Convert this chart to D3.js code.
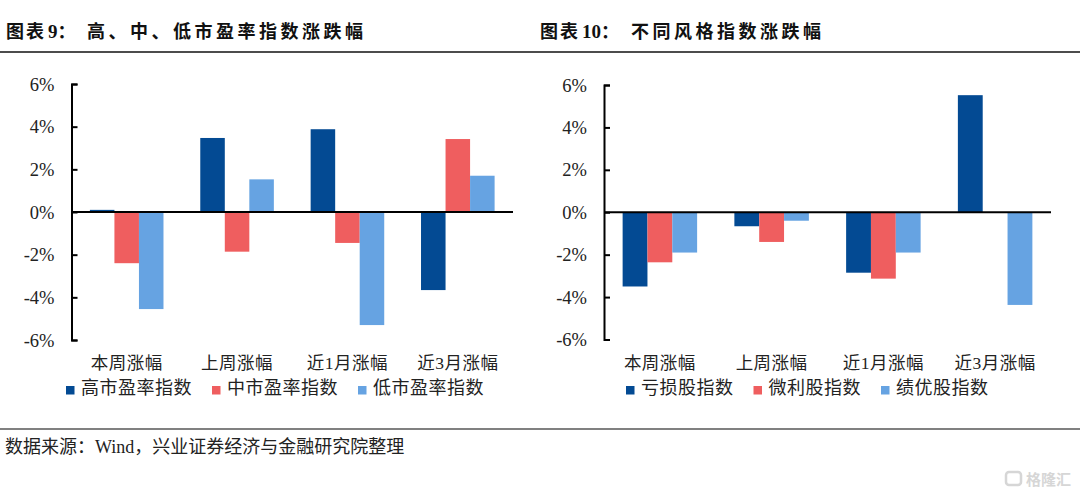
<!DOCTYPE html>
<html><head><meta charset="utf-8">
<script src="https://cdn.jsdelivr.net/npm/d3@7"></script>
<style>
html,body{margin:0;padding:0;background:#fff;}
svg{display:block;}
text{font-family:"Liberation Serif","Noto Sans CJK SC",serif;}
</style></head>
<body>
<svg id="c" width="1080" height="497"></svg>
<script>
// ---- data ----
const categories = ["本周涨幅", "上周涨幅", "近1月涨幅", "近3月涨幅"];
const tickValues = [-6, -4, -2, 0, 2, 4, 6];

const peSeries = ["高市盈率指数", "中市盈率指数", "低市盈率指数"];
const peHigh = [0.1, 3.47, 3.88, -3.66];
const peMid  = [-2.4, -1.86, -1.45, 3.42];
const peLow  = [-4.55, 1.53, -5.3, 1.70];

const styleSeries = ["亏损股指数", "微利股指数", "绩优股指数"];
const styleLoss   = [-3.5, -0.66, -2.85, 5.52];
const styleSmall  = [-2.36, -1.40, -3.13, 0];
const styleGood   = [-1.9, -0.40, -1.9, -4.37];

const colors = ["#034a93", "#ef5e5f", "#66a3e2"];

const svg = d3.select("#c");

// header / footer rules
svg.append("line").attr("x1",0).attr("x2",1080).attr("y1",52).attr("y2",52)
  .attr("stroke","#111").attr("stroke-width",1.5);
svg.append("line").attr("x1",0).attr("x2",1080).attr("y1",429).attr("y2",429)
  .attr("stroke","#808080").attr("stroke-width",2);

function title(x0, num, xNum, rest, xRest){
  const t = svg.append("text").attr("y",38).attr("font-size",18).attr("font-weight","bold").attr("fill","#111");
  t.append("tspan").attr("x",x0).attr("letter-spacing",2).text("图表");
  t.append("tspan").attr("x",xNum).style("font-size","19px").text(num);
  t.append("tspan").text("：");
  t.append("tspan").attr("x",xRest).attr("letter-spacing",3.5).text(rest);
}
title(6, "9", 48, "高、中、低市盈率指数涨跌幅", 87);
title(540, "10", 582, "不同风格指数涨跌幅", 631);

function chart(opts){
  const {xl, xr, yTop, yBot, series, values, legendX} = opts;
  const y = d3.scaleLinear().domain([-6,6]).range([yBot, yTop]);
  const x0 = d3.scaleBand().domain(categories).range([xl, xr]).padding(0);
  const x1 = d3.scaleBand().domain(series).range([0, x0.bandwidth()]).paddingInner(0).paddingOuter(0.75);
  const g = svg.append("g");

  // bars
  categories.forEach((c, ci) => {
    series.forEach((s, si) => {
      const v = values[si][ci];
      if (v === 0) return;
      g.append("rect")
        .attr("x", x0(c) + x1(s))
        .attr("width", x1.bandwidth())
        .attr("y", y(Math.max(0, v)))
        .attr("height", Math.abs(y(v) - y(0)))
        .attr("fill", colors[si]);
    });
  });

  // y axis
  const yAxis = d3.axisRight(y).tickValues(tickValues).tickSize(6).tickFormat("");
  const ya = g.append("g").attr("transform", `translate(${xl},0)`).call(yAxis);
  ya.select(".domain").attr("stroke","#000").attr("stroke-width",2);
  ya.selectAll(".tick line").attr("stroke","#000").attr("stroke-width",2);
  g.selectAll(".ylab").data(tickValues).enter().append("text")
    .attr("x", xl - 17).attr("y", d => y(d)).attr("dy","0.36em")
    .attr("text-anchor","end").attr("font-size",18.5).attr("fill","#222")
    .text(d => d + "%");

  // zero line
  g.append("line").attr("x1", xl).attr("x2", xr).attr("y1", y(0)).attr("y2", y(0))
    .attr("stroke","#000").attr("stroke-width",2);

  // category labels
  g.selectAll(".clab").data(categories).enter().append("text")
    .attr("x", d => x0(d) + x0.bandwidth()/2).attr("y", 369)
    .attr("text-anchor","middle").attr("font-size",17.5).attr("letter-spacing",0.5).attr("fill","#222")
    .text(d => d);

  // legend
  let lx = legendX;
  series.forEach((s, si) => {
    g.append("rect").attr("x", lx).attr("y", 386).attr("width", 8.5).attr("height", 8.5).attr("fill", colors[si]);
    const t = g.append("text").attr("x", lx + 15).attr("y", 394).attr("font-size", 18).attr("letter-spacing",0.5).attr("fill","#222").text(s);
    lx = lx + 15 + t.node().getComputedTextLength() + 20;
  });
}

chart({xl:71.5, xr:513, yTop:84, yBot:340, series:peSeries,
       values:[peHigh, peMid, peLow], legendX:66});
chart({xl:604, xr:1051, yTop:85, yBot:339.5, series:styleSeries,
       values:[styleLoss, styleSmall, styleGood], legendX:626});

// source
svg.append("text").attr("x",5).attr("y",453).attr("font-size",18).attr("fill","#222")
  .text("数据来源：Wind，兴业证券经济与金融研究院整理");

// watermark
const wm = svg.append("g").attr("opacity",0.6);
wm.append("rect").attr("x",1006).attr("y",472).attr("width",15).attr("height",13).attr("rx",3)
  .attr("fill","none").attr("stroke","#bbb").attr("stroke-width",2.5);
wm.append("text").attr("x",1026).attr("y",485).attr("font-size",15).attr("fill","#bbb")
  .attr("font-family","Noto Sans CJK SC").attr("font-weight","bold").text("格隆汇");
</script>
</body></html>
